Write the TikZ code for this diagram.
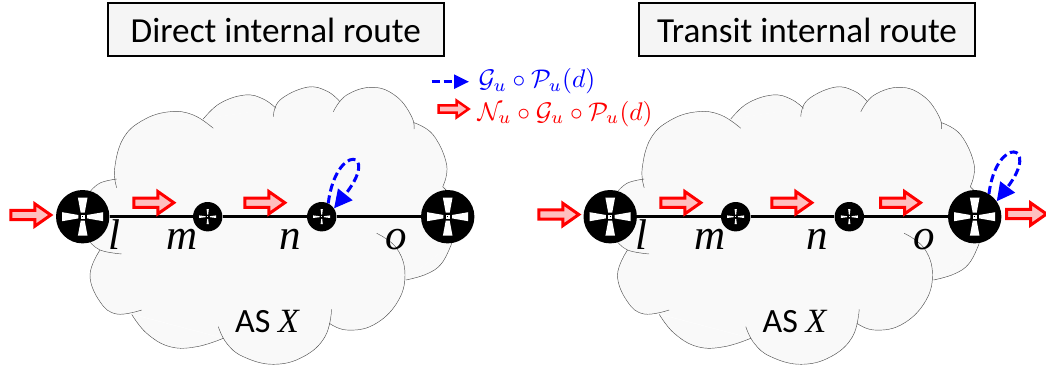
\documentclass[tikz,border=0pt]{standalone}
\usepackage{fontspec}
\setmainfont{Carlito}
\newfontfamily\mathitfont{Liberation Serif}
\usetikzlibrary{arrows.meta,shapes.arrows}

\newcommand{\routericon}{
	\begin{scope}[shift={(path picture bounding box.center)}]
		\fill[white] (-2,-4) -- (-4.8,-19) -- (4.8,-19) -- (2,-4) -- cycle;
		\fill[white] (-2,4) -- (-4.8,19) -- (4.8,19) -- (2,4) -- cycle;
		\fill[white] (-4.3,-1.7) -- (-20.5,-4.5) -- (-20.5,4.5) -- (-4.3,1.7) -- cycle;
		\fill[white] (4.3,-1.7) -- (20.5,-4.5) -- (20.5,4.5) -- (4.3,1.7) -- cycle;
		\fill[white] (-2,-2) rectangle (2,2);
		\fill[black] (-.7,-.7) rectangle (.7,.7);
	\end{scope}
}
\newcommand{\smallroutericon}{
	\begin{scope}[shift={(path picture bounding box.center)}]
		\fill[white] (-.5,-2.2) -- (-1.1,-7.5) -- (1.1,-7.5) -- (.5,-2.2) -- cycle;
		\fill[white] (-.5,2.2) -- (-1.1,7.5) -- (1.1,7.5) -- (.5,2.2) -- cycle;
		\fill[white] (-2.2,-.5) -- (-8.5,-1.3) -- (-8.5,1.3) -- (-2.2,.5) -- cycle;
		\fill[white] (2.2,-.5) -- (8.5,-1.3) -- (8.5,1.3) -- (2.2,.5) -- cycle;
		\fill[white] (-.6,-.6) rectangle (.6,.6);
	\end{scope}
}
\newcommand{\cloudlobes}{
	plot[smooth,tension=.7] coordinates {(116.7,187.7) (114.7,168.3) (123.3,138.3) (143.3,120) (170,111.7) (193.3,115) (213.3,128.3)}
	plot[smooth,tension=.7] coordinates {(203.3,119) (220,103.3) (245,95) (263.3,99) (276,108.3)}
	plot[smooth,tension=.7] coordinates {(273.3,116.7) (280,100) (306.7,87.3) (326.7,91) (340,101.7)}
	plot[smooth,tension=.7] coordinates {(333.3,111.7) (346.7,95) (373.3,87.3) (396.7,96.7) (411.7,116.7) (414,129)}
	plot[smooth,tension=.7] coordinates {(414,122.7) (433.3,135) (446.7,165) (442.7,186.7)}
	plot[smooth,tension=.7] coordinates {(442.7,186.7) (449,193)}
	plot[smooth,tension=.7] coordinates {(451.7,243.3) (441.7,263.3) (426.7,274) (406,280)}
	plot[smooth,tension=.7] coordinates {(376.7,233.3) (396.7,248.3) (405,275) (396.7,303.3) (373.3,325) (346.7,330) (329.3,323.3)}
	plot[smooth,tension=.7] coordinates {(331.7,309.3) (325,336.7) (303.3,356.7) (273.3,364.3) (243.3,356.7) (226.7,343.3) (218.3,326.7)}
	plot[smooth,tension=.7] coordinates {(223.3,338.3) (196.7,346.7) (170,346.7) (146.7,333.3) (131.7,314.3)}
	plot[smooth,tension=.7] coordinates {(141.7,310) (116.7,314) (100,301.7) (90,275) (100,250)}
	plot[smooth,tension=.7] coordinates {(88.3,240) (100,250) (121.7,254)}
	plot[smooth,tension=.7] coordinates {(90,191.7) (100,183) (116.7,179)}
}
\newcommand{\ascloud}[1]{
	\begin{scope}[xshift=#1]
		\fill[cloudfill] \cloudlobes;
		\fill[cloudfill] (90,192) -- (117,179) -- (203,119) -- (276,108) -- (340,102) -- (414,123) -- (449,193) -- (452,243) -- (406,280) -- (330,323) -- (300,350) -- (240,350) -- (223,338) -- (132,314) -- (100,250) -- (88,240) -- cycle;
		\draw[cloudline] \cloudlobes;
	\end{scope}
}

\definecolor{cloudgray}{HTML}{F9F9F9}
\definecolor{titlegray}{HTML}{F5F5F5}
\tikzstyle{cloudfill} = [fill=cloudgray]
\tikzstyle{cloudline} = [draw=black!70,line width=.45pt,dash pattern=on 1.2pt off .3pt]
\tikzstyle{router} = [circle,fill=black,inner sep=0pt,minimum size=53.4pt,path picture={\routericon}]
\tikzstyle{smallrouter} = [circle,fill=black,inner sep=0pt,minimum size=29.4pt,path picture={\smallroutericon}]
\tikzstyle{link} = [line width=3.5pt]
\tikzstyle{title} = [draw=black,line width=2pt,fill=titlegray,minimum width=336pt,minimum height=53pt,inner sep=0pt,font=\fontsize{35.2}{38}\selectfont]
\tikzstyle{redarrow} = [single arrow,draw=red,fill=red!25,line width=3pt,inner xsep=0pt,inner ysep=3.2pt,outer sep=0pt,minimum height=40pt,minimum width=20pt,single arrow head extend=6.5pt,single arrow tip angle=70,anchor=tail]
\tikzstyle{legendarrow} = [redarrow,line width=2.5pt,inner ysep=2.4pt,minimum height=30pt,minimum width=14.5pt,single arrow head extend=4.8pt]
\tikzstyle{bluedash} = [draw=blue,line width=3pt,dash pattern=on 8pt off 4pt]
\tikzstyle{pointlabel} = [inner sep=0pt,anchor=base,font=\mathitfont\itshape\fontsize{43}{43}\selectfont]

\begin{document}
\begin{tikzpicture}[x=1pt,y=-1pt]
		\useasboundingbox (0,0) rectangle (1046,369);
		\ascloud{0pt}
		\ascloud{527.5pt}

		\node[title] (t1) at (275.8,30) {Direct internal route};
		\node[title] (t2) at (807,30) {Transit internal route};

		\node[router] (a1) at (82.7,216.7) {};
		\node[smallrouter] (a2) at (207.7,216.7) {};
		\node[smallrouter] (a3) at (321.7,216.7) {};
		\node[router] (a4) at (447.7,216.7) {};
		\draw[link] (a1) -- (a2);
		\draw[link] (a2) -- (a3);
		\draw[link] (a3) -- (a4);

		\node[router] (b1) at (610.2,216.7) {};
		\node[smallrouter] (b2) at (735.7,216.7) {};
		\node[smallrouter] (b3) at (849.3,216.7) {};
		\node[router] (b4) at (974.7,216.7) {};
		\draw[link] (b1) -- (b2);
		\draw[link] (b2) -- (b3);
		\draw[link] (b3) -- (b4);

		\node[pointlabel] (la) at (114.3,249.3) {l};
		\node[pointlabel] (ma) at (182.3,249.3) {m};
		\node[pointlabel] (na) at (290,249.3) {n};
		\node[pointlabel] (oa) at (396.7,249.3) {o};
		\node[pointlabel] (lb) at (641.8,249.3) {l};
		\node[pointlabel] (mb) at (709.8,249.3) {m};
		\node[pointlabel] (nb) at (817.5,249.3) {n};
		\node[pointlabel] (ob) at (924.2,249.3) {o};

		\node[inner sep=0pt,anchor=base west,font=\fontsize{34}{36}\selectfont] (asa) at (235,332.7) {AS {\mathitfont\itshape X}};
		\node[inner sep=0pt,anchor=base west,font=\fontsize{34}{36}\selectfont] (asb) at (762.5,332.7) {AS {\mathitfont\itshape X}};

		\node[redarrow] (ra1) at (10.8,215) {};
		\node[redarrow] (ra2) at (133.8,202.7) {};
		\node[redarrow] (ra3) at (244.8,202.7) {};
		\node[redarrow] (rb1) at (538.8,214.5) {};
		\node[redarrow] (rb2) at (660.8,202.7) {};
		\node[redarrow] (rb3) at (771.8,202.7) {};
		\node[redarrow] (rb4) at (880.5,202.7) {};
		\node[redarrow] (rb5) at (1006.5,214) {};

		\draw[bluedash,-{Triangle[length=18pt,width=18pt]}] (a3.64) .. controls (336,142) and (381,150) .. (a3.34);
		\draw[bluedash,-{Triangle[length=18pt,width=18pt]}] (b4.58) .. controls (996.3,135) and (1041.3,143) .. (b4.35);

		\coordinate (lg1) at (431.7,81.7);
		\coordinate (lg2) at (469,81.7);
		\draw[bluedash,line width=2.5pt,-{Triangle[length=15pt,width=14pt]}] (lg1) -- (lg2);
		\node[legendarrow] (lg3) at (438.6,109) {};
		\node[inner sep=0pt,anchor=base west,text=blue,scale=2.55] (lt1) at (478,88) {$\mathcal{G}_u\circ\mathcal{P}_u(d)$};
		\node[inner sep=0pt,anchor=base west,text=red,scale=2.55] (lt2) at (477,120) {$\mathcal{N}_u\circ\mathcal{G}_u\circ\mathcal{P}_u(d)$};
\end{tikzpicture}
\end{document}
